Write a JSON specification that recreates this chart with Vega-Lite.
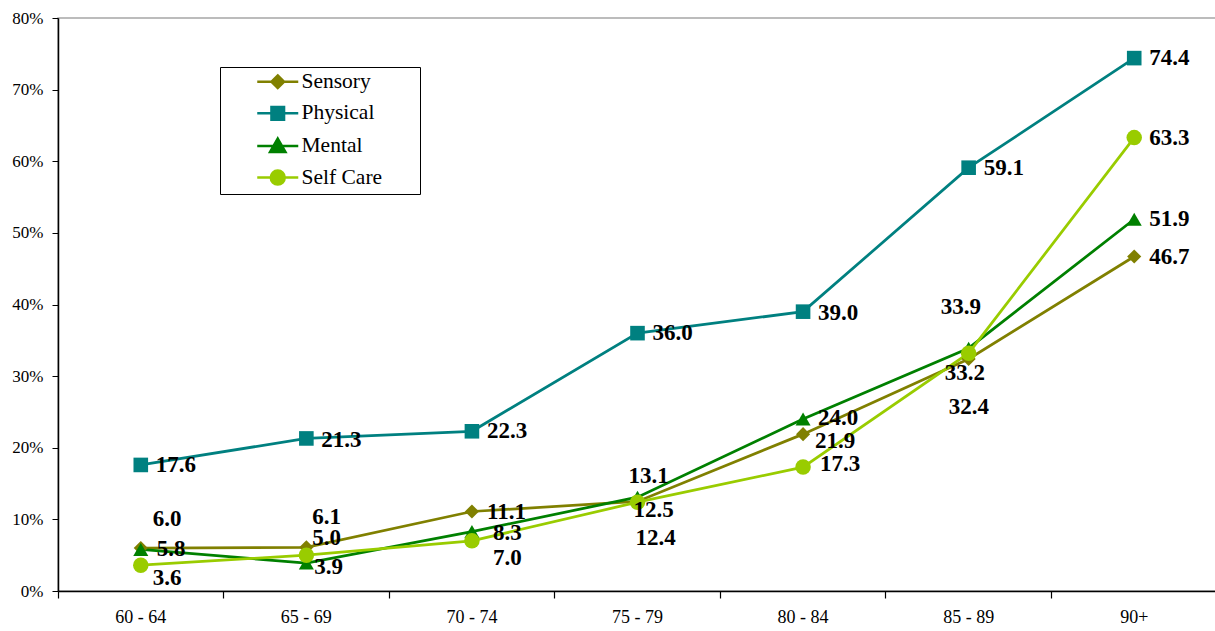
{
  "$schema": "https://vega.github.io/schema/vega-lite/v6.json",
  "width": 1159,
  "height": 573,
  "autosize": {"type": "none"},
  "padding": {"left": 58, "top": 18, "right": 0, "bottom": 40},
  "background": "white",
  "config": {
    "view": {"stroke": "#a6a6a6", "strokeWidth": 1.5},
    "font": "Liberation Serif"
  },
  "data": {
    "values": [
      {"age": "60 - 64", "series": "Sensory", "value": 6.0},
      {"age": "65 - 69", "series": "Sensory", "value": 6.1},
      {"age": "70 - 74", "series": "Sensory", "value": 11.1},
      {"age": "75 - 79", "series": "Sensory", "value": 12.5},
      {"age": "80 - 84", "series": "Sensory", "value": 21.9},
      {"age": "85 - 89", "series": "Sensory", "value": 32.4},
      {"age": "90+", "series": "Sensory", "value": 46.7},
      {"age": "60 - 64", "series": "Physical", "value": 17.6},
      {"age": "65 - 69", "series": "Physical", "value": 21.3},
      {"age": "70 - 74", "series": "Physical", "value": 22.3},
      {"age": "75 - 79", "series": "Physical", "value": 36.0},
      {"age": "80 - 84", "series": "Physical", "value": 39.0},
      {"age": "85 - 89", "series": "Physical", "value": 59.1},
      {"age": "90+", "series": "Physical", "value": 74.4},
      {"age": "60 - 64", "series": "Mental", "value": 5.8},
      {"age": "65 - 69", "series": "Mental", "value": 3.9},
      {"age": "70 - 74", "series": "Mental", "value": 8.3},
      {"age": "75 - 79", "series": "Mental", "value": 13.1},
      {"age": "80 - 84", "series": "Mental", "value": 24.0},
      {"age": "85 - 89", "series": "Mental", "value": 33.9},
      {"age": "90+", "series": "Mental", "value": 51.9},
      {"age": "60 - 64", "series": "Self Care", "value": 3.6},
      {"age": "65 - 69", "series": "Self Care", "value": 5.0},
      {"age": "70 - 74", "series": "Self Care", "value": 7.0},
      {"age": "75 - 79", "series": "Self Care", "value": 12.4},
      {"age": "80 - 84", "series": "Self Care", "value": 17.3},
      {"age": "85 - 89", "series": "Self Care", "value": 33.2},
      {"age": "90+", "series": "Self Care", "value": 63.3}
    ]
  },
  "layer": [
    {
      "mark": {"type": "line", "strokeWidth": 2.75},
      "encoding": {
        "x": {
          "field": "age", "type": "ordinal",
          "sort": ["60 - 64", "65 - 69", "70 - 74", "75 - 79", "80 - 84", "85 - 89", "90+"],
          "scale": {"type": "band", "paddingInner": 0, "paddingOuter": 0},
          "axis": {
            "title": null, "orient": "bottom", "ticks": false, "domainColor": "black", "domainWidth": 1.5,
            "labelAngle": 0, "labelFont": "Liberation Serif", "labelFontSize": 18,
            "labelColor": "black", "labelPadding": 17
          }
        },
        "y": {
          "field": "value", "type": "quantitative",
          "scale": {"domain": [0, 80], "nice": false},
          "axis": {
            "title": null, "grid": false, "values": [0, 10, 20, 30, 40, 50, 60, 70, 80],
            "labelExpr": "datum.value + '%'", "domainColor": "black", "domainWidth": 1.5,
            "tickColor": "black", "tickSize": 6, "labelPadding": 9,
            "labelFont": "Liberation Serif", "labelFontSize": 17, "labelColor": "black"
          }
        },
        "color": {
          "field": "series", "type": "nominal",
          "scale": {"domain": ["Sensory", "Physical", "Mental", "Self Care"], "range": ["#808000", "#008080", "#008000", "#99cc00"]},
          "legend": null
        }
      }
    },
    {
      "mark": {"type": "point", "filled": true, "opacity": 1},
      "encoding": {
        "x": {"field": "age", "type": "ordinal", "sort": ["60 - 64", "65 - 69", "70 - 74", "75 - 79", "80 - 84", "85 - 89", "90+"], "axis": null},
        "y": {"field": "value", "type": "quantitative"},
        "color": {
          "field": "series", "type": "nominal",
          "scale": {"domain": ["Sensory", "Physical", "Mental", "Self Care"], "range": ["#808000", "#008080", "#008000", "#99cc00"]},
          "legend": null
        },
        "shape": {
          "field": "series", "type": "nominal",
          "scale": {"domain": ["Sensory", "Physical", "Mental", "Self Care"], "range": ["diamond", "square", "triangle-up", "circle"]},
          "legend": null
        },
        "size": {
          "field": "series", "type": "nominal",
          "scale": {"domain": ["Sensory", "Physical", "Mental", "Self Care"], "range": [200, 240, 230, 225]},
          "legend": null
        }
      }
    },
    {
      "transform": [{"filter": "false"}],
      "mark": {"type": "point", "filled": true, "opacity": 1, "strokeWidth": 2.5},
      "encoding": {
        "x": {"field": "age", "type": "ordinal", "sort": ["60 - 64", "65 - 69", "70 - 74", "75 - 79", "80 - 84", "85 - 89", "90+"], "axis": null},
        "y": {"field": "value", "type": "quantitative"},
        "fill": {
          "field": "series", "type": "nominal",
          "scale": {"domain": ["Sensory", "Physical", "Mental", "Self Care"], "range": ["#808000", "#008080", "#008000", "#99cc00"]},
          "legend": {
            "title": null, "orient": "none", "legendX": 162, "legendY": 49, "padding": 4,
            "strokeColor": "black", "fillColor": "white", "symbolSize": 196, "symbolStrokeWidth": 2.5,
            "symbolOpacity": 1, "symbolOffset": 43, "labelOffset": 13, "rowPadding": 7.6,
            "labelFont": "Liberation Serif", "labelFontSize": 21.5, "labelColor": "black", "labelLimit": 0
          }
        },
        "stroke": {
          "field": "series", "type": "nominal",
          "scale": {"domain": ["Sensory", "Physical", "Mental", "Self Care"], "range": ["#808000", "#008080", "#008000", "#99cc00"]},
          "legend": {
            "title": null, "orient": "none", "legendX": 162, "legendY": 49, "padding": 4,
            "strokeColor": "black", "fillColor": "white", "symbolSize": 196, "symbolStrokeWidth": 2.5,
            "symbolOpacity": 1, "symbolOffset": 43, "labelOffset": 13, "rowPadding": 7.6,
            "labelFont": "Liberation Serif", "labelFontSize": 21.5, "labelColor": "black", "labelLimit": 0
          }
        },
        "shape": {
          "field": "series", "type": "nominal",
          "scale": {
            "domain": ["Sensory", "Physical", "Mental", "Self Care"],
            "range": [
              "M-2.93,0H2.93M0,-0.9L0.9,0L0,0.9L-0.9,0ZM18.9,0",
              "M-2.93,0H2.93M-0.9,-0.9H0.9V0.9H-0.9ZM18.9,0",
              "M-2.93,0H2.93M0,-1.05L1.1,0.85H-1.1ZM18.9,0",
              "M-2.93,0H2.93M-1,0A1,1 0 1,0 1,0A1,1 0 1,0 -1,0ZM18.9,0"
            ]
          },
          "legend": {
            "title": null, "orient": "none", "legendX": 162, "legendY": 49, "padding": 4,
            "strokeColor": "black", "fillColor": "white", "symbolSize": 196, "symbolStrokeWidth": 2.5,
            "symbolOpacity": 1, "symbolOffset": 43, "labelOffset": 13, "rowPadding": 7.6,
            "labelFont": "Liberation Serif", "labelFontSize": 21.5, "labelColor": "black", "labelLimit": 0
          }
        }
      }
    },
    {
      "mark": {
        "type": "text", "align": "left", "baseline": "middle",
        "font": "Liberation Serif", "fontWeight": "bold", "fontSize": 23, "color": "black",
        "dx": {"expr": "isValid(({'Sensory|60 - 64': 12, 'Sensory|65 - 69': 6, 'Sensory|75 - 79': -4, 'Sensory|80 - 84': 12, 'Sensory|85 - 89': -20, 'Mental|60 - 64': 16, 'Mental|65 - 69': 8, 'Mental|70 - 74': 21, 'Mental|75 - 79': -9, 'Mental|85 - 89': -28, 'Self Care|60 - 64': 12, 'Self Care|65 - 69': 6, 'Self Care|70 - 74': 21, 'Self Care|75 - 79': -2, 'Self Care|80 - 84': 17, 'Self Care|85 - 89': -24})[datum.series + '|' + datum.age]) ? ({'Sensory|60 - 64': 12, 'Sensory|65 - 69': 6, 'Sensory|75 - 79': -4, 'Sensory|80 - 84': 12, 'Sensory|85 - 89': -20, 'Mental|60 - 64': 16, 'Mental|65 - 69': 8, 'Mental|70 - 74': 21, 'Mental|75 - 79': -9, 'Mental|85 - 89': -28, 'Self Care|60 - 64': 12, 'Self Care|65 - 69': 6, 'Self Care|70 - 74': 21, 'Self Care|75 - 79': -2, 'Self Care|80 - 84': 17, 'Self Care|85 - 89': -24})[datum.series + '|' + datum.age] : 15"},
        "dy": {"expr": "isValid(({'Sensory|60 - 64': -29, 'Sensory|65 - 69': -30, 'Sensory|70 - 74': 1, 'Sensory|75 - 79': 9, 'Sensory|80 - 84': 7, 'Sensory|85 - 89': 48, 'Mental|65 - 69': 4, 'Mental|70 - 74': 1, 'Mental|75 - 79': -21, 'Mental|80 - 84': -1, 'Mental|85 - 89': -41, 'Self Care|60 - 64': 13, 'Self Care|65 - 69': -17, 'Self Care|70 - 74': 17, 'Self Care|75 - 79': 36, 'Self Care|80 - 84': -3, 'Self Care|85 - 89': 20, 'Physical|65 - 69': 2, 'Physical|80 - 84': 1})[datum.series + '|' + datum.age]) ? ({'Sensory|60 - 64': -29, 'Sensory|65 - 69': -30, 'Sensory|70 - 74': 1, 'Sensory|75 - 79': 9, 'Sensory|80 - 84': 7, 'Sensory|85 - 89': 48, 'Mental|65 - 69': 4, 'Mental|70 - 74': 1, 'Mental|75 - 79': -21, 'Mental|80 - 84': -1, 'Mental|85 - 89': -41, 'Self Care|60 - 64': 13, 'Self Care|65 - 69': -17, 'Self Care|70 - 74': 17, 'Self Care|75 - 79': 36, 'Self Care|80 - 84': -3, 'Self Care|85 - 89': 20, 'Physical|65 - 69': 2, 'Physical|80 - 84': 1})[datum.series + '|' + datum.age] : 0"}
      },
      "encoding": {
        "x": {
          "field": "age", "type": "ordinal",
          "sort": ["60 - 64", "65 - 69", "70 - 74", "75 - 79", "80 - 84", "85 - 89", "90+"],
          "axis": {"title": null, "orient": "bottom", "labels": false, "domain": false, "ticks": true, "tickSize": 7, "tickColor": "black", "tickWidth": 1.2, "bandPosition": 0}
        },
        "y": {"field": "value", "type": "quantitative"},
        "text": {"field": "value", "type": "quantitative", "format": ".1f"}
      }
    }
  ],
  "resolve": {
    "scale": {"color": "independent", "shape": "independent", "size": "independent", "fill": "independent", "stroke": "independent"},
    "axis": {"x": "independent"}
  }
}
